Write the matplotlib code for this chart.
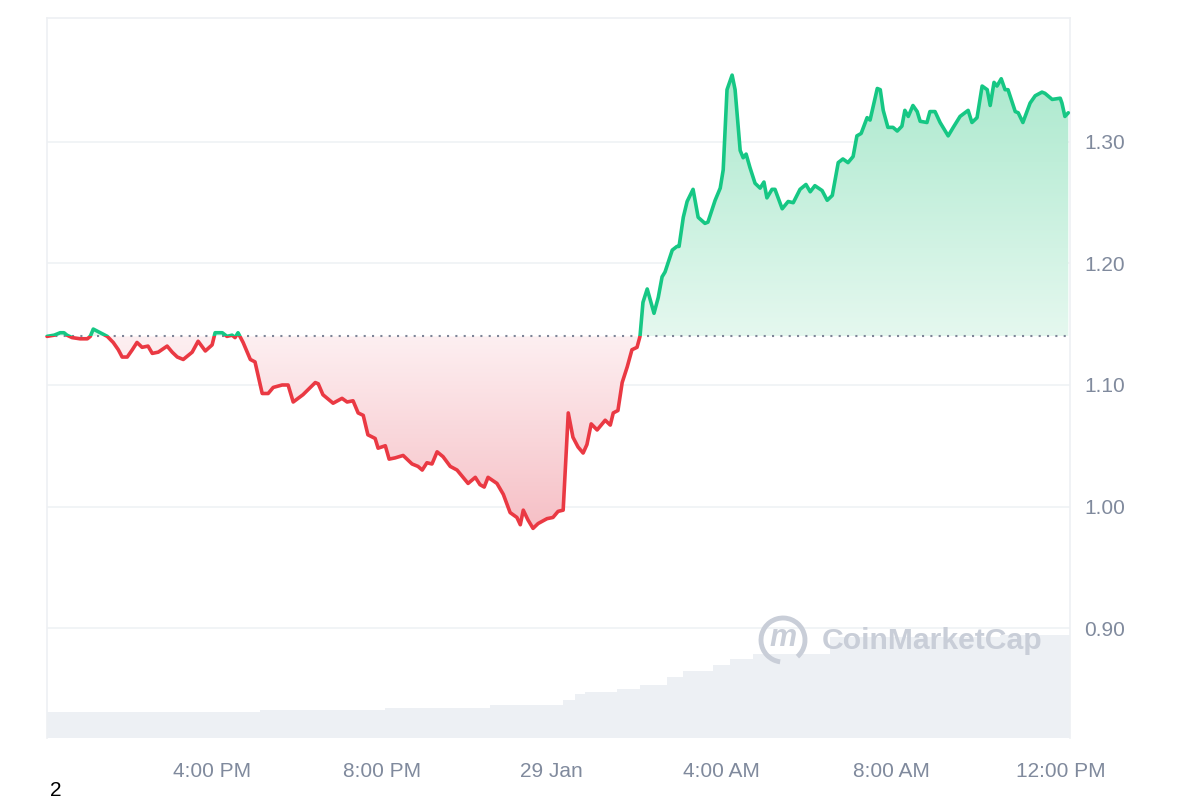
import matplotlib
matplotlib.use('Agg')
import matplotlib.pyplot as plt
import numpy as np
from matplotlib.path import Path
from matplotlib.patches import PathPatch, Rectangle, Arc
from matplotlib.colors import LinearSegmentedColormap

plt.rcParams['font.family'] = ['Liberation Sans', 'DejaVu Sans']

# ---- data (hours counted from 28 Jan 00:00) ----
hours = [12.11, 12.28, 12.42, 12.51, 12.58, 12.70, 12.89, 13.06, 13.13, 13.20,
         13.31, 13.53, 13.67, 13.79, 13.88, 14.00, 14.12, 14.23, 14.35, 14.49,
         14.59, 14.73, 14.94, 15.06, 15.18, 15.32, 15.53, 15.67, 15.84, 16.00,
         16.07, 16.24, 16.35, 16.47, 16.54, 16.61, 16.73, 16.90, 17.01, 17.18,
         17.32, 17.44, 17.65, 17.79, 17.91, 18.14, 18.43, 18.50, 18.61, 18.85,
         19.06, 19.18, 19.32, 19.44, 19.56, 19.67, 19.84, 19.91, 20.08, 20.17,
         20.31, 20.50, 20.71, 20.85, 20.95, 21.06, 21.18, 21.30, 21.44, 21.61,
         21.77, 22.03, 22.20, 22.31, 22.41, 22.50, 22.71, 22.86, 23.02, 23.18,
         23.26, 23.33, 23.44, 23.56, 23.68, 23.89, 24.03, 24.15, 24.27, 24.39,
         24.50, 24.62, 24.74, 24.83, 24.93, 25.07, 25.26, 25.38, 25.45, 25.56,
         25.66, 25.78, 25.89, 26.01, 26.08, 26.15, 26.25, 26.41, 26.51, 26.60,
         26.67, 26.84, 26.95, 27.00, 27.10, 27.19, 27.33, 27.45, 27.61, 27.68,
         27.85, 27.97, 28.04, 28.13, 28.25, 28.32, 28.44, 28.51, 28.58, 28.67,
         28.79, 28.91, 29.00, 29.07, 29.19, 29.26, 29.43, 29.57, 29.69, 29.85,
         29.99, 30.09, 30.20, 30.37, 30.49, 30.61, 30.75, 30.86, 30.98, 31.10,
         31.19, 31.29, 31.43, 31.50, 31.67, 31.74, 31.81, 31.92, 32.04, 32.14,
         32.25, 32.32, 32.40, 32.51, 32.61, 32.68, 32.84, 32.91, 33.03, 33.15,
         33.34, 33.46, 33.62, 33.81, 33.90, 34.02, 34.14, 34.26, 34.33, 34.42,
         34.49, 34.59, 34.68, 34.75, 34.92, 34.99, 35.10, 35.27, 35.39, 35.55,
         35.62, 35.79, 35.98, 36.02, 36.09, 36.17]

prices = [1.140, 1.141, 1.143, 1.143, 1.141, 1.139, 1.138, 1.138, 1.140, 1.146,
          1.144, 1.140, 1.135, 1.129, 1.123, 1.123, 1.129, 1.135, 1.131, 1.132,
          1.126, 1.127, 1.132, 1.127, 1.123, 1.121, 1.127, 1.136, 1.128, 1.133,
          1.143, 1.143, 1.140, 1.141, 1.139, 1.143, 1.135, 1.121, 1.119, 1.093,
          1.093, 1.098, 1.100, 1.100, 1.086, 1.092, 1.102, 1.101, 1.092, 1.085,
          1.089, 1.086, 1.087, 1.077, 1.075, 1.059, 1.056, 1.048, 1.050, 1.039,
          1.040, 1.042, 1.035, 1.033, 1.030, 1.036, 1.035, 1.045, 1.041, 1.033,
          1.030, 1.019, 1.024, 1.018, 1.016, 1.024, 1.019, 1.010, 0.995, 0.991,
          0.985, 0.997, 0.989, 0.982, 0.986, 0.990, 0.991, 0.996, 0.997, 1.077,
          1.057, 1.049, 1.044, 1.051, 1.068, 1.063, 1.071, 1.067, 1.077, 1.079,
          1.102, 1.115, 1.129, 1.131, 1.140, 1.168, 1.179, 1.159, 1.172, 1.189,
          1.193, 1.211, 1.214, 1.214, 1.238, 1.251, 1.261, 1.238, 1.233, 1.234,
          1.252, 1.262, 1.277, 1.343, 1.355, 1.343, 1.293, 1.287, 1.290, 1.279,
          1.266, 1.262, 1.267, 1.254, 1.261, 1.261, 1.245, 1.251, 1.250, 1.261,
          1.265, 1.259, 1.264, 1.260, 1.252, 1.256, 1.283, 1.286, 1.283, 1.288,
          1.305, 1.307, 1.320, 1.318, 1.344, 1.343, 1.326, 1.312, 1.312, 1.309,
          1.313, 1.326, 1.321, 1.330, 1.325, 1.317, 1.316, 1.325, 1.325, 1.316,
          1.305, 1.312, 1.321, 1.326, 1.316, 1.320, 1.346, 1.343, 1.330, 1.349,
          1.346, 1.352, 1.343, 1.343, 1.325, 1.324, 1.316, 1.332, 1.338, 1.341,
          1.340, 1.335, 1.336, 1.332, 1.321, 1.324]

base_price = 1.14

vol_start = [12.11, 17.13, 20.08, 22.55, 24.27, 24.55, 24.79, 25.54,
             26.08, 26.72, 27.10, 27.80, 28.20, 28.74, 30.56, 34.56]
vol_end = 36.21
vol_values = [2.6, 2.8, 3.0, 3.3, 3.8, 4.4, 4.6, 4.9,
              5.3, 6.1, 6.7, 7.3, 7.9, 8.4, 10.1, 10.3]

xtick_pos = [16, 20, 24, 28, 32, 36]
xtick_labels = ['4:00 PM', '8:00 PM', '29 Jan', '4:00 AM', '8:00 AM', '12:00 PM']
ytick_pos = [0.90, 1.00, 1.10, 1.20, 1.30]

RED = '#ea3943'
GREEN = '#16c784'
GREY = '#808a9d'

x = np.array(hours)
y = np.array(prices)
xmin, xmax = 12.11, 36.21
ymin, ymax = 0.8095, 1.402

fig = plt.figure(figsize=(12, 8), dpi=100)
ax = fig.add_axes([47/1200, 62/800, 1023/1200, 720/800])

# volume on a hidden twin axis
ax2 = ax.twinx()
widths = np.diff(vol_start + [vol_end])
ax2.bar(vol_start, vol_values, width=widths, align='edge',
        color='#edf0f4', edgecolor='none', zorder=1)
ax2.set_ylim(0, 72)
ax2.set_yticks([])
for s in ax2.spines.values():
    s.set_visible(False)
ax.set_zorder(ax2.get_zorder() + 1)
ax.patch.set_visible(False)


def gradient_fill(where, c_near, c_far, y_far):
    coll = ax.fill_between(x, y, base_price, where=where, interpolate=True,
                           facecolor='none', edgecolor='none')
    path = Path.make_compound_path(*coll.get_paths())
    patch = PathPatch(path, transform=ax.transData, facecolor='none',
                      edgecolor='none')
    ax.add_patch(patch)
    lo, hi = sorted([base_price, y_far])
    if y_far < base_price:
        cmap = LinearSegmentedColormap.from_list('g', [c_far, c_near])
    else:
        cmap = LinearSegmentedColormap.from_list('g', [c_near, c_far])
    grad = np.linspace(0, 1, 256).reshape(-1, 1)
    im = ax.imshow(grad, extent=[xmin, xmax, lo, hi], origin='lower',
                   aspect='auto', cmap=cmap, zorder=2)
    im.set_clip_path(patch)


gradient_fill(y < base_price, '#fdeff1', '#f6bfc5', 0.98)
gradient_fill(y > base_price, '#e5f8ef', '#ace9ce', 1.355)

# grid lines
for t in ytick_pos:
    ax.axhline(t, color='#eff2f5', lw=1.2, zorder=0)

# baseline
ax.axhline(base_price, color='#7d8497', lw=1.5, ls=(0, (1, 3)), zorder=3)

# price line, coloured above / below baseline
up = Rectangle((xmin - 1, base_price), xmax - xmin + 2, 1, transform=ax.transData)
dn = Rectangle((xmin - 1, base_price - 1), xmax - xmin + 2, 1, transform=ax.transData)
l1, = ax.plot(x, y, color=GREEN, lw=2.6, solid_joinstyle='round',
              solid_capstyle='round', zorder=4)
l1.set_clip_path(up)
l2, = ax.plot(x, y, color=RED, lw=2.6, solid_joinstyle='round',
              solid_capstyle='round', zorder=4)
l2.set_clip_path(dn)

ax.set_xlim(xmin, xmax)
ax.set_ylim(ymin, ymax)
ax.yaxis.tick_right()
ax.set_yticks(ytick_pos, ['%.2f' % v for v in ytick_pos])
ax.set_xticks(xtick_pos, xtick_labels)
ax.tick_params(axis='both', length=0, labelsize=15, labelcolor=GREY)
ax.tick_params(axis='x', pad=17)
ax.tick_params(axis='y', pad=10)
for side in ['left', 'top', 'right']:
    ax.spines[side].set_color('#eef0f3')
    ax.spines[side].set_linewidth(1.2)
ax.spines['bottom'].set_visible(False)

# watermark
wm = '#c9ced8'
fig.add_artist(Arc((783/1200, 1 - 640/800), 44/1200, 44/800, theta1=-60, theta2=265,
                   transform=fig.transFigure, color=wm, lw=3.5, zorder=5))
fig.text(783/1200, 1 - 638/800, 'm', color=wm, fontsize=22, style='italic',
         ha='center', va='center', fontweight='bold', zorder=5)
fig.text(822/1200, 1 - 641/800, 'CoinMarketCap', color=wm, fontsize=21.7,
         fontweight='bold', ha='left', va='center', zorder=5)

fig.text(50/1200, 1 - 790/800, '2', color='black', fontsize=15,
         ha='left', va='center')

plt.savefig('out.png', dpi=100)
plt.close()
